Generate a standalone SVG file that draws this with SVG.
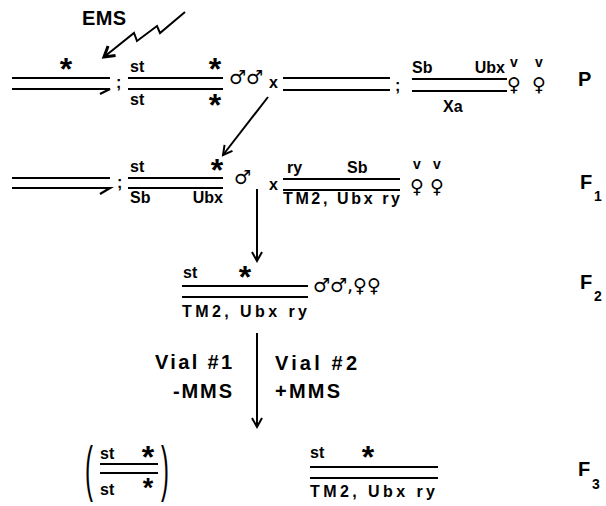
<svg xmlns="http://www.w3.org/2000/svg" width="606" height="506" viewBox="0 0 606 506">
<style>
.t{font-family:"Liberation Sans","DejaVu Sans",Arial,sans-serif;font-weight:bold;fill:#000;font-size:16px}
.lg{font-size:20px}
.sub{font-size:14px}
.ast{font-family:"Liberation Sans",Arial,sans-serif;font-weight:bold;font-size:32px;text-anchor:middle}
.sym{font-family:"DejaVu Sans",sans-serif;font-size:19px;fill:#000}
.mid{text-anchor:middle}
.br{font-family:"Liberation Sans",Arial,sans-serif;font-size:28px;fill:#000}
.ln{stroke:#000;stroke-width:2.2;fill:none}
.ar{stroke:#000;stroke-width:2;fill:none}
</style>
<defs>
<marker id="v" markerWidth="14" markerHeight="14" refX="10" refY="6" orient="auto" markerUnits="userSpaceOnUse">
<path d="M1,1 L10,6 L1,11" fill="none" stroke="#000" stroke-width="2"/>
</marker>
<marker id="vb" markerWidth="16" markerHeight="16" refX="11" refY="7" orient="auto" markerUnits="userSpaceOnUse">
<path d="M1,1 L11,7 L1,13" fill="none" stroke="#000" stroke-width="3"/>
</marker>
</defs>
<rect width="606" height="506" fill="#fff"/>

<g id="ems">
<text class="t lg" x="82" y="25" textLength="44" lengthAdjust="spacing">EMS</text>
</g>

<g id="p-left">
<path class="ln" d="M12,78 H110 M12,89 H110 L100,94"/>
<text class="ast" x="66" y="80">*</text>
<text class="t" x="116" y="88">;</text>
</g>

<g id="p-male">
<path class="ln" d="M128,78 H223 M128,89 H223"/>
<text class="t" x="130" y="72">st</text>
<text class="ast" x="215" y="80">*</text>
<text class="t" x="130" y="105">st</text>
<text class="ast" x="215" y="116">*</text>
<text class="sym" x="229" y="84">♂♂</text>
<text class="t" x="269" y="88">x</text>
</g>

<g id="p-female">
<path class="ln" d="M283,78 H390 M283,90 H390"/>
<text class="t" x="395" y="91">;</text>
<path class="ln" d="M412,79 H507 M412,91 H507"/>
<text class="t" x="412" y="73">Sb</text>
<text class="t" x="505" y="73" text-anchor="end">Ubx</text>
<text class="t" x="443" y="112">Xa</text>
<text class="t sub mid" x="514" y="67">v</text>
<text class="t sub mid" x="539" y="67">v</text>
<text class="sym mid" x="514" y="91">♀</text>
<text class="sym mid" x="539" y="91">♀</text>
<text class="t lg" x="578" y="86">P</text>
</g>

<g id="f1-male">
<path class="ln" d="M12,178 H110 M12,188 H110 L100,194"/>
<text class="t" x="117" y="188">;</text>
<path class="ln" d="M128,178 H223 M128,188 H223"/>
<text class="t" x="130" y="172">st</text>
<text class="ast" x="217" y="181">*</text>
<text class="t" x="130" y="203">Sb</text>
<text class="t" x="223" y="203" text-anchor="end">Ubx</text>
<text class="sym" x="234" y="184">♂</text>
</g>

<g id="f1-female">
<text class="t" x="269" y="190">x</text>
<path class="ln" d="M283,179 H400 M283,190 H400"/>
<text class="t" x="287" y="173">ry</text>
<text class="t" x="347" y="173">Sb</text>
<text class="t" x="283" y="204" textLength="117" lengthAdjust="spacing">TM2, Ubx ry</text>
<text class="t sub mid" x="417" y="169">v</text>
<text class="t sub mid" x="437" y="169">v</text>
<text class="sym mid" x="417" y="193">♀</text>
<text class="sym mid" x="437" y="193">♀</text>
<text class="t lg" x="580" y="189">F</text>
<text class="t sub" x="594" y="201">1</text>
</g>

<g id="f2">
<path class="ln" d="M182,286 H308 M182,297 H308"/>
<text class="t" x="183" y="278">st</text>
<text class="ast" x="245" y="288">*</text>
<text class="t" x="182" y="317" textLength="125" lengthAdjust="spacing">TM2, Ubx ry</text>
<text class="sym" x="313" y="292">♂♂,♀♀</text>
<text class="t lg" x="580" y="289">F</text>
<text class="t sub" x="594" y="301">2</text>
</g>

<g id="vials">
<text class="t lg" x="155" y="369" textLength="77" lengthAdjust="spacing">Vial #1</text>
<text class="t lg" x="173" y="398" textLength="59" lengthAdjust="spacing">-MMS</text>
<text class="t lg" x="275" y="370" textLength="82" lengthAdjust="spacing">Vial #2</text>
<text class="t lg" x="275" y="398" textLength="65" lengthAdjust="spacing">+MMS</text>
</g>

<g id="f3-homozygote">
<text class="br" transform="translate(85,489) scale(0.85,2.2)">(</text>
<text class="br" transform="translate(161,489) scale(0.85,2.2)">)</text>
<path class="ln" d="M100,464 H158 M100,473 H158"/>
<text class="t" x="100" y="459">st</text>
<text class="ast" x="148" y="468">*</text>
<text class="t" x="100" y="495">st</text>
<text class="ast" x="148" y="497" style="font-size:27px">*</text>
</g>

<g id="f3-balanced">
<path class="ln" d="M310,467 H438 M310,478 H438"/>
<text class="t" x="310" y="458">st</text>
<text class="ast" x="368" y="468">*</text>
<text class="t" x="310" y="497" textLength="125" lengthAdjust="spacing">TM2, Ubx ry</text>
<text class="t lg" x="578" y="476">F</text>
<text class="t sub" x="592" y="489">3</text>
</g>

<g id="connectors">
<polyline class="ar" stroke-width="2.5" points="185,12 160,33 157,26 137,41 134,33 104,57" marker-end="url(#vb)"/>
<line class="ar" x1="268" y1="97" x2="223" y2="155" marker-end="url(#v)"/>
<line class="ar" x1="257" y1="189" x2="257" y2="261" marker-end="url(#v)"/>
<line class="ar" x1="257" y1="333" x2="257" y2="427" marker-end="url(#v)"/>
</g>
</svg>
